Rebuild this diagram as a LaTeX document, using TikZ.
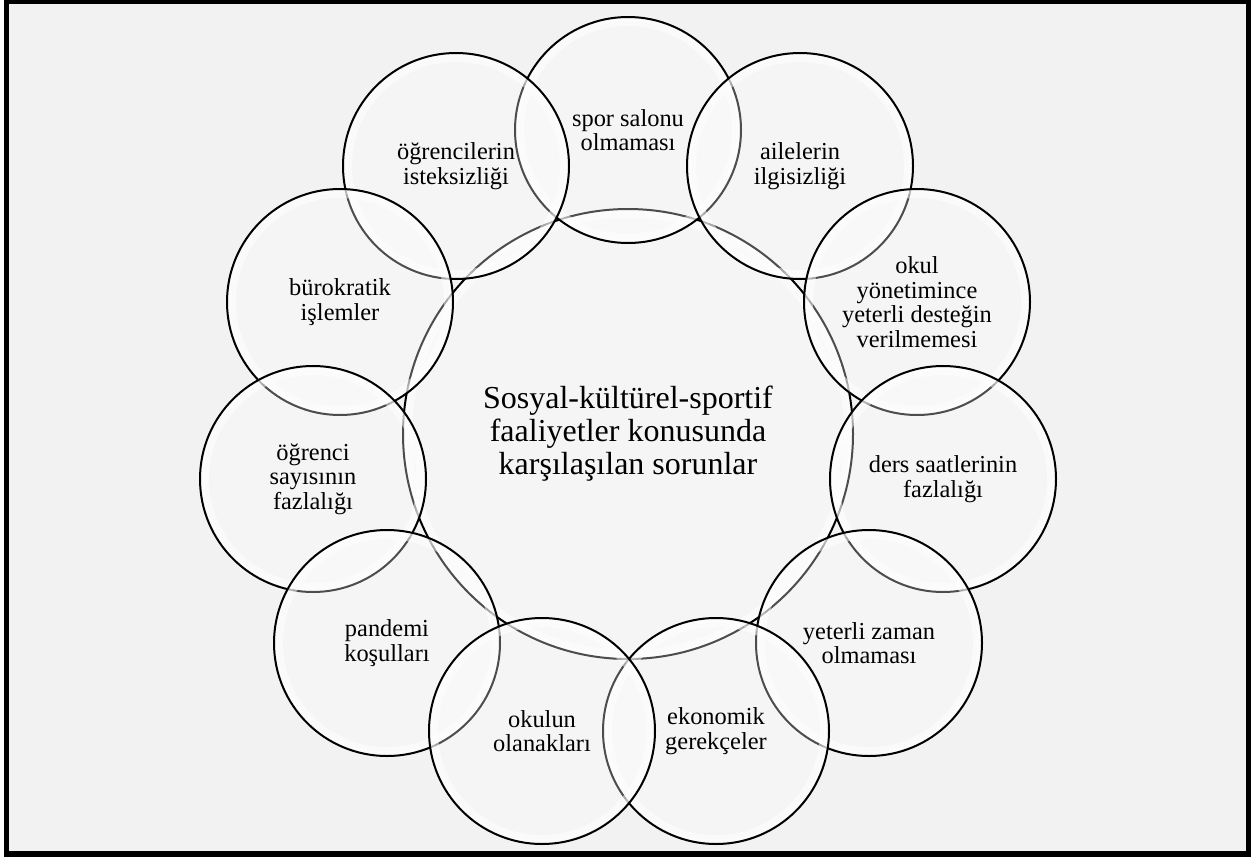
\documentclass[tikz,border=0pt]{standalone}
\usepackage{fontspec}
\setmainfont{Liberation Serif}
\definecolor{bgc}{RGB}{242,242,242}
\begin{document}
\begin{tikzpicture}[x=1pt,y=-1pt,
  bub/.style={circle, draw=black, line width=2pt, fill=white, fill opacity=0.3,
    text opacity=1, inner sep=0pt, align=center,
    path picture={\draw[white,line width=10pt,opacity=0.6] (path picture bounding box.center) circle (#1);
                  \draw[white,line width=4pt,opacity=0.5] (path picture bounding box.center) circle (#1-7pt);}},
  small/.style={bub=113pt, minimum size=226pt, font=\fontsize{24.4}{24.5}\selectfont},
  big/.style={bub=225pt, minimum size=450pt, font=\fontsize{32}{33}\selectfont}]
\useasboundingbox (0,0) rectangle (1257,859);
\fill[white] (0,0) rectangle (1257,859);
\fill[bgc] (6.5,1.5) rectangle (1248.5,854);
\draw[line width=5.5pt] (6.5,1.5) rectangle (1248.5,854);

\node[big] (c) at (628,434) {Sosyal-kültürel-sportif\\faaliyetler konusunda\\karşılaşılan sorunlar};

\node[small] (spor) at (628,130) {spor salonu\\olmaması};
\node[small] (aile) at (800,166) {ailelerin\\ilgisizliği};
\node[small] (isteks) at (456,166) {öğrencilerin\\isteksizliği};
\node[small] (okulyon) at (917,302) {okul\\yönetimince\\yeterli desteğin\\verilmemesi};
\node[small] (buro) at (340,302) {bürokratik\\işlemler};
\node[small] (ders) at (943,479) {ders saatlerinin\\fazlalığı};
\node[small] (ogrsay) at (313,479) {öğrenci\\sayısının\\fazlalığı};
\node[small] (zaman) at (869,643) {yeterli zaman\\olmaması};
\node[small] (pand) at (387,643) {pandemi\\koşulları};
\node[small] (eko) at (716,731) {ekonomik\\gerekçeler};
\node[small] (olan) at (542,731) {okulun\\olanakları};
\end{tikzpicture}
\end{document}
